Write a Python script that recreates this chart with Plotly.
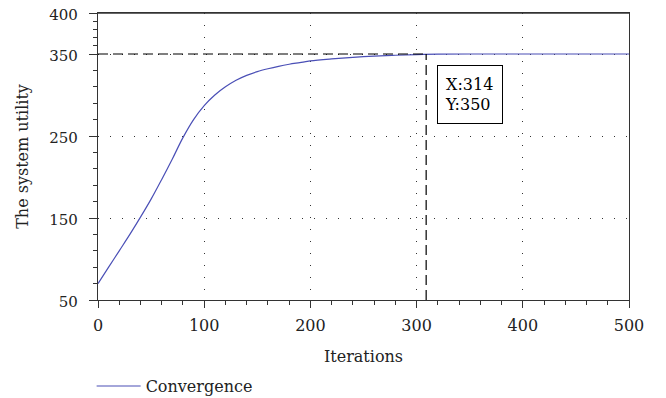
import plotly.graph_objects as go

# Data
iterations = [0, 10, 20, 30, 40, 50, 60, 70, 80, 90, 100, 110, 120, 130, 140, 150,
              160, 170, 180, 190, 200, 220, 240, 260, 280, 300, 320, 350, 400, 450, 500]
utility = [70, 90, 110, 130, 151, 173, 197, 222, 248, 270, 287, 300, 310, 318, 324, 328.5,
           332, 335, 337.5, 339.5, 341.5, 344, 346, 347.5, 348.5, 349.3, 349.8, 350, 350, 350, 350]

x_ticks = [0, 100, 200, 300, 400, 500]
y_ticks = [50, 150, 250, 350, 400]
y_minor = [70, 90, 110, 130, 170, 190, 210, 230, 270, 290, 310, 330, 360, 370, 380, 390]
x_minor = [v for v in range(0, 501, 20) if v % 100 != 0]

cursor_x = [309]
cursor_y = [350]
cursor_label = "X:314<br>Y:350"

FONT = "DejaVu Serif"
AX = "#333333"

fig = go.Figure()
fig.add_trace(go.Scatter(x=iterations, y=utility, mode="lines", name="Convergence",
                         line=dict(color="#4a4fb6", width=1.2, shape="spline")))

# data cursor dashed guides
fig.add_shape(type="line", x0=0, x1=cursor_x[0], y0=cursor_y[0], y1=cursor_y[0],
              xref="x", yref="y", line=dict(color="black", width=1.2, dash="10px,5px"))
fig.add_shape(type="line", x0=cursor_x[0], x1=cursor_x[0], y0=50, y1=cursor_y[0],
              xref="x", yref="y", line=dict(color="black", width=1.2, dash="10px,5px"))
# top frame line of the axes box
fig.add_shape(type="line", x0=0, x1=1, y0=1, y1=1, xref="x domain", yref="y domain",
              line=dict(color=AX, width=1.3))

fig.add_annotation(x=319, y=336.8, xref="x", yref="y", xanchor="left", yanchor="top",
                   text=cursor_label, showarrow=False, align="left",
                   font=dict(family=FONT, size=16, color="black"),
                   bordercolor="black", borderwidth=1, borderpad=7,
                   bgcolor="white", width=50, height=43)

fig.update_layout(
    width=666, height=398,
    margin=dict(l=90, r=45, t=5, b=106, autoexpand=False),
    plot_bgcolor="white", paper_bgcolor="white",
    font=dict(family=FONT, size=16, color="#222222"),
    showlegend=True,
    legend=dict(x=-0.012, y=-0.30, xanchor="left", yanchor="middle",
                font=dict(family=FONT, size=16, color="#222222"),
                bgcolor="rgba(0,0,0,0)", itemwidth=44),
)
fig.update_xaxes(
    range=[0, 500], tickvals=x_ticks, ticks="outside", ticklen=7, tickwidth=1.2,
    tickcolor=AX, showline=True, linecolor=AX, linewidth=1.3, mirror=True,
    showgrid=True, gridcolor="#333333", gridwidth=1, griddash="1px,11px",
    zeroline=False, automargin=False, ticklabelstandoff=4, ticklabeloverflow="allow",
    minor=dict(tickvals=x_minor, ticks="outside", ticklen=4, tickcolor=AX, showgrid=False),
    title=dict(text="Iterations", font=dict(family=FONT, size=16), standoff=16),
)
fig.update_yaxes(
    range=[50, 400], tickvals=y_ticks, ticks="outside", ticklen=8, tickwidth=1.2,
    tickcolor=AX, showline=True, linecolor=AX, linewidth=1.3, mirror=True,
    showgrid=True, gridcolor="#333333", gridwidth=1, griddash="1px,11px",
    zeroline=False, automargin=False, ticklabelstandoff=8, ticklabeloverflow="allow",
    ticklabelshift=2, tickfont=dict(family=FONT, size=15),
    minor=dict(tickvals=y_minor, ticks="outside", ticklen=4, tickcolor=AX, showgrid=False),
    title=dict(text="The system utility", font=dict(family=FONT, size=16), standoff=16),
)

fig.write_html("out.html")
